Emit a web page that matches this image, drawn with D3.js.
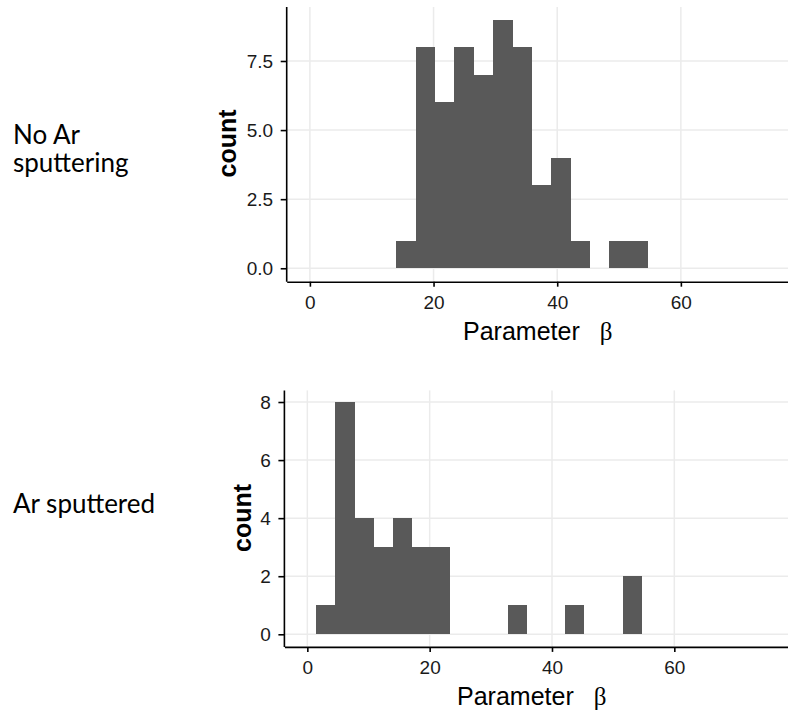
<!DOCTYPE html>
<html>
<head>
<meta charset="utf-8">
<script src="https://cdn.jsdelivr.net/npm/d3@7"></script>
<style>
  html, body { margin: 0; padding: 0; background: #fff; }
  svg { display: block; }
</style>
</head>
<body>
<svg id="chart" width="788" height="711"></svg>
<script>
// ---- data ----
const binStarts = [1.47, 4.60, 7.73, 10.86, 13.99, 17.12, 20.25, 23.38, 26.51, 29.64, 32.77, 35.90, 39.03, 42.16, 45.29, 48.42, 51.55];
const binWidth = 3.13;
const countsNoAr = [0, 0, 0, 0, 1, 8, 6, 8, 7, 9, 8, 3, 4, 1, 0, 1, 1];
const countsAr   = [1, 8, 4, 3, 4, 3, 3, 0, 0, 0, 1, 0, 0, 1, 0, 0, 2];
const xTicks = [0, 20, 40, 60];
const yTicksNoAr = [0, 2.5, 5, 7.5];
const yTicksAr = [0, 2, 4, 6, 8];
const xDomain = [-3.75, 78.75];
const panelLabels = [["No Ar", "sputtering"], ["Ar sputtered"]];
const xTitle = "Parameter";
const xTitleSymbol = "β";
const yTitle = "count";

const svg = d3.select("#chart");

function panel(cfg) {
  const g = svg.append("g");
  const x = d3.scaleLinear().domain(xDomain).range([cfg.left, cfg.right]);
  const y = d3.scaleLinear().domain(cfg.yDomain).range([cfg.bottom, cfg.top]);

  // grid
  g.append("g").selectAll("line.vg").data(xTicks).join("line")
    .attr("x1", d => x(d)).attr("x2", d => x(d))
    .attr("y1", cfg.top).attr("y2", cfg.bottom)
    .attr("stroke", "#ebebeb").attr("stroke-width", 1.5);
  g.append("g").selectAll("line.hg").data(cfg.yTicks).join("line")
    .attr("x1", cfg.left).attr("x2", cfg.right)
    .attr("y1", d => y(d)).attr("y2", d => y(d))
    .attr("stroke", "#ebebeb").attr("stroke-width", 1.5);

  // bars
  const data = binStarts.map((s, i) => ({ s, c: cfg.counts[i] })).filter(d => d.c > 0);
  g.append("g").attr("shape-rendering", "crispEdges")
    .selectAll("rect").data(data).join("rect")
    .attr("x", d => Math.round(x(d.s)))
    .attr("width", d => Math.round(x(d.s + binWidth)) - Math.round(x(d.s)))
    .attr("y", d => Math.round(y(d.c)))
    .attr("height", d => Math.round(y(0)) - Math.round(y(d.c)))
    .attr("fill", "#595959");

  // axes
  const xAxis = d3.axisBottom(x).tickValues(xTicks).tickSize(5).tickSizeOuter(0).tickPadding(9);
  const gx = g.append("g").attr("transform", `translate(0,${cfg.bottom + 1})`).call(xAxis);
  const yAxis = d3.axisLeft(y).tickValues(cfg.yTicks).tickSize(6).tickSizeOuter(0).tickPadding(7.5)
    .tickFormat(cfg.yFormat);
  const gy = g.append("g").attr("transform", `translate(${cfg.left},0)`).call(yAxis);
  [gx, gy].forEach(a => {
    a.select(".domain").attr("stroke", "#000").attr("stroke-width", 1.6);
    a.selectAll(".tick line").attr("stroke", "#000").attr("stroke-width", 1.6);
    a.selectAll(".tick text").attr("fill", "#1a1a1a")
      .style("font-family", "'Liberation Sans', Arial, sans-serif").style("font-size", "19px");
  });
  gy.select(".domain").attr("d", `M0,${cfg.bottom + 1}V${cfg.top}`);

  // x title
  const t = g.append("text")
    .attr("x", cfg.titleX).attr("y", cfg.titleY)
    .attr("fill", "#000")
    .style("font-family", "'Liberation Sans', Arial, sans-serif").style("font-size", "25px");
  t.append("tspan").text(xTitle);
  t.append("tspan").attr("dx", 20)
    .style("font-family", "'Liberation Serif', 'Times New Roman', serif").text(xTitleSymbol);

  // y title
  g.append("text")
    .attr("transform", `translate(${cfg.yTitleX},${cfg.yTitleY}) rotate(-90)`)
    .attr("text-anchor", "middle")
    .attr("fill", "#000")
    .style("font-family", "'Liberation Sans', Arial, sans-serif").style("font-size", "25px")
    .style("font-weight", "bold").text(yTitle);

  // panel label
  const pl = g.append("text").attr("fill", "#000")
    .style("font-family", "Lato, 'Open Sans', sans-serif").style("font-size", "26px");
  cfg.label.forEach((line, i) => {
    pl.append("tspan").attr("x", 13).attr("y", cfg.labelY + i * 28).text(line);
  });
}

panel({
  left: 286.7, right: 796.8, top: 7.1, bottom: 280.7,
  yDomain: [-0.45, 9.45], yTicks: yTicksNoAr, yFormat: d3.format(".1f"),
  counts: countsNoAr,
  titleX: 463, titleY: 340,
  yTitleX: 236, yTitleY: 143.5,
  label: panelLabels[0], labelY: 144
});

panel({
  left: 284.4, right: 789, top: 390.4, bottom: 645.9,
  yDomain: [-0.4, 8.4], yTicks: yTicksAr, yFormat: d3.format("d"),
  counts: countsAr,
  titleX: 457, titleY: 705,
  yTitleX: 251, yTitleY: 518,
  label: panelLabels[1], labelY: 513
});
</script>
</body>
</html>
